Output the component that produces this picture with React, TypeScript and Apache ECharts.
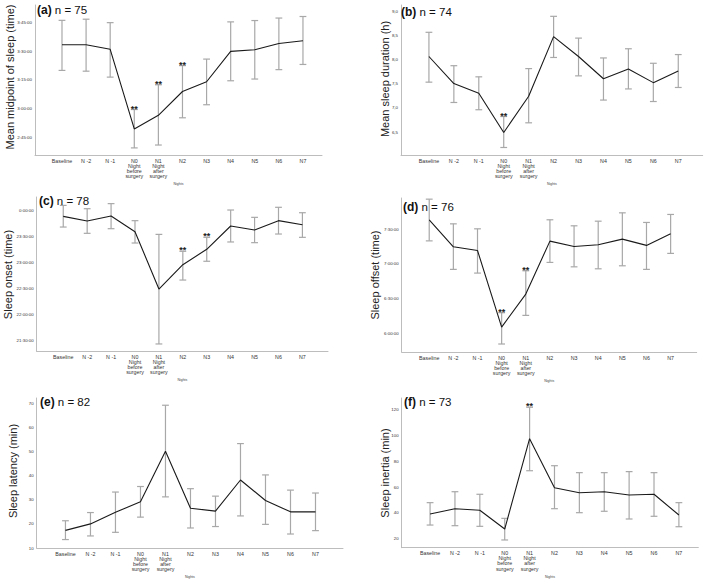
import React, { useEffect, useRef } from "react";
import * as echarts from "echarts";

// Category labels (nights)
const nights = [
  "Baseline",
  "N -2",
  "N -1",
  "N0\nNight\nbefore\nsurgery",
  "N1\nNight\nafter\nsurgery",
  "N2",
  "N3",
  "N4",
  "N5",
  "N6",
  "N7",
];

// (a) Mean midpoint of sleep, minutes after midnight
const midMean = [213.3, 213.3, 210.9, 169.4, 176.5, 188.9, 194.0, 209.8, 210.7, 213.9, 215.4];
const midHigh = [226.0, 226.6, 224.8, 179.5, 192.4, 202.4, 205.8, 225.2, 225.9, 227.2, 228.0];
const midLow = [199.9, 199.5, 196.4, 159.5, 161.0, 175.2, 182.0, 194.5, 195.4, 200.3, 203.0];
const midStars = [0, 0, 0, 1, 1, 1, 0, 0, 0, 0, 0];
const midTicks = [165, 180, 195, 210, 225];

// (b) Mean sleep duration, hours
const durMean = [8.06, 7.5, 7.3, 6.49, 7.24, 8.47, 8.06, 7.6, 7.8, 7.52, 7.76];
const durHigh = [8.56, 7.87, 7.64, 6.82, 7.81, 8.89, 8.44, 8.03, 8.22, 7.92, 8.1];
const durLow = [7.53, 7.11, 6.96, 6.18, 6.69, 8.04, 7.66, 7.16, 7.39, 7.13, 7.42];
const durStars = [0, 0, 0, 1, 0, 0, 0, 0, 0, 0, 0];
const durTicks = [6.5, 7.0, 7.5, 8.0, 8.5, 9.0];

// (c) Sleep onset, minutes relative to midnight (negative = before midnight)
const onMean = [-7.3, -12.6, -6.9, -24.8, -90.5, -62.6, -45.0, -18.3, -22.9, -12.2, -16.8];
const onHigh = [5.3, 1.5, 7.3, -12.2, -27.9, -47.3, -31.3, 0, -8.4, 3.1, -3.1];
const onLow = [-19.5, -26.7, -21.4, -37.8, -153.4, -80.2, -58.7, -36.6, -37.4, -27.5, -31.3];
const onStars = [0, 0, 0, 0, 0, 1, 1, 0, 0, 0, 0];
const onTicks = [-150, -120, -90, -60, -30, 0];

// (d) Sleep offset, minutes after midnight
const offMean = [457.9, 434.7, 431.5, 365.4, 393.9, 439.6, 435.0, 436.4, 441.3, 435.9, 445.9];
const offHigh = [475.8, 454.5, 450.2, 377.8, 414.0, 458.0, 452.8, 456.8, 464.0, 455.7, 462.6];
const offLow = [439.8, 415.2, 412.0, 350.8, 375.5, 421.2, 417.4, 415.7, 418.3, 415.2, 429.0];
const offStars = [0, 0, 0, 1, 1, 0, 0, 0, 0, 0, 0];
const offTicks = [360, 390, 420, 450];

// (e) Sleep latency, minutes
const latMean = [17.3, 20.0, 24.8, 29.2, 50.1, 26.5, 25.3, 38.2, 29.7, 25.0, 25.0];
const latHigh = [21.3, 24.7, 33.2, 35.5, 69.2, 34.6, 31.5, 53.3, 40.3, 34.0, 32.8];
const latLow = [13.5, 15.0, 16.5, 22.8, 31.2, 18.3, 18.9, 23.3, 19.8, 15.8, 17.2];
const latStars = [0, 0, 0, 0, 0, 0, 0, 0, 0, 0, 0];
const latTicks = [10, 20, 30, 40, 50, 60, 70];

// (f) Sleep inertia, minutes
const inMean = [39.2, 43.3, 42.1, 27.5, 97.7, 59.6, 55.7, 56.5, 54.0, 54.5, 38.4];
const inHigh = [48.0, 56.5, 54.5, 35.8, 122.1, 76.7, 71.3, 71.3, 72.1, 71.3, 48.0];
const inLow = [30.6, 30.1, 29.6, 19.0, 72.8, 43.3, 40.2, 41.3, 35.3, 37.4, 29.3];
const inStars = [0, 0, 0, 0, 1, 0, 0, 0, 0, 0, 0];
const inTicks = [20, 40, 60, 80, 100, 120];

const FONT = "'Liberation Sans', Arial, Helvetica, sans-serif";

const clock = (v: number) => {
  const m = Math.round(((v % 1440) + 1440) % 1440);
  const h = Math.floor(m / 60);
  const mm = m % 60;
  return `${h}:${String(mm).padStart(2, "0")}:00`;
};
const comma = (v: number) => v.toFixed(1).replace(".", ",");
const plain = (v: number) => String(Math.round(v));

type Panel = {
  tag: string;
  n: number;
  yTitle: string;
  mean: number[];
  high: number[];
  low: number[];
  stars: number[];
  ticks: number[];
  fmt: (v: number) => string;
  grid: { left: number; top: number; width: number; height: number };
  xMin: number;
  xMax: number;
  yMin: number;
  yMax: number;
  titlePos: [number, number];
  yTitlePos: [number, number];
};

const panels: Panel[] = [
  {
    tag: "(a)", n: 75, yTitle: "Mean midpoint of sleep (time)",
    mean: midMean, high: midHigh, low: midLow, stars: midStars, ticks: midTicks, fmt: clock,
    grid: { left: 35, top: 5, width: 287, height: 150 },
    xMin: -1.12, xMax: 10.79, yMin: 155.8, yMax: 234,
    titlePos: [37, 9.5], yTitlePos: [10, 77],
  },
  {
    tag: "(b)", n: 74, yTitle: "Mean sleep duration (h)",
    mean: durMean, high: durHigh, low: durLow, stars: durStars, ticks: durTicks, fmt: comma,
    grid: { left: 401, top: 5, width: 301.7, height: 150 },
    xMin: -1.12, xMax: 10.98, yMin: 6.025, yMax: 9.124,
    titlePos: [401, 11.7], yTitlePos: [385, 79],
  },
  {
    tag: "(c)", n: 78, yTitle: "Sleep onset (time)",
    mean: onMean, high: onHigh, low: onLow, stars: onStars, ticks: onTicks, fmt: clock,
    grid: { left: 36.7, top: 197, width: 291.3, height: 154.3 },
    xMin: -1.11, xMax: 11.07, yMin: -161.8, yMax: 14.9,
    titlePos: [39, 201], yTitlePos: [8, 274.5],
  },
  {
    tag: "(d)", n: 76, yTitle: "Sleep offset (time)",
    mean: offMean, high: offHigh, low: offLow, stars: offStars, ticks: offTicks, fmt: clock,
    grid: { left: 401.7, top: 198, width: 295, height: 154 },
    xMin: -1.14, xMax: 11.08, yMin: 343.9, yMax: 476.8,
    titlePos: [403, 207.3], yTitlePos: [375, 275],
  },
  {
    tag: "(e)", n: 82, yTitle: "Sleep latency (min)",
    mean: latMean, high: latHigh, low: latLow, stars: latStars, ticks: latTicks, fmt: plain,
    grid: { left: 36.7, top: 398, width: 306.3, height: 150.3 },
    xMin: -1.15, xMax: 11.1, yMin: 10, yMax: 72.2,
    titlePos: [40, 401.7], yTitlePos: [12.7, 471],
  },
  {
    tag: "(f)", n: 73, yTitle: "Sleep inertia (min)",
    mean: inMean, high: inHigh, low: inLow, stars: inStars, ticks: inTicks, fmt: plain,
    grid: { left: 401.7, top: 398, width: 296.6, height: 149.7 },
    xMin: -1.14, xMax: 10.78, yMin: 13, yMax: 129.3,
    titlePos: [404, 401.7], yTitlePos: [385, 473],
  },
];

const idx = nights.map((_, i) => i);

function buildOption() {
  const grids: any[] = [];
  const xAxes: any[] = [];
  const yAxes: any[] = [];
  const series: any[] = [];
  const graphics: any[] = [];

  panels.forEach((p, k) => {
    grids.push({ ...p.grid, containLabel: false });
    xAxes.push({
      type: "value",
      gridIndex: k,
      min: p.xMin,
      max: p.xMax,
      name: "Nights",
      nameLocation: "middle",
      nameGap: 27,
      nameTextStyle: { fontSize: 3.5, color: "#444", fontFamily: FONT },
      axisLine: { show: true, onZero: false, lineStyle: { color: "#bdbdbd", width: 1 } },
      axisTick: { show: false },
      splitLine: { show: false },
      axisLabel: {
        customValues: idx,
        formatter: (v: number) => nights[Math.round(v)] ?? "",
        fontSize: 5.3,
        lineHeight: 5.1,
        color: "#333",
        fontFamily: FONT,
        margin: 3,
      },
    });
    yAxes.push({
      type: "value",
      gridIndex: k,
      min: p.yMin,
      max: p.yMax,
      axisLine: { show: true, onZero: false, lineStyle: { color: "#bdbdbd", width: 1 } },
      axisTick: { show: false },
      splitLine: { show: false },
      axisLabel: {
        customValues: p.ticks,
        formatter: (v: number) => p.fmt(v),
        fontSize: 4.4,
        color: "#333",
        fontFamily: FONT,
        margin: 3,
      },
    });
    series.push({
      type: "custom",
      xAxisIndex: k,
      yAxisIndex: k,
      z: 2,
      clip: false,
      data: idx.map((i) => [i, p.low[i], p.high[i], p.stars[i]]),
      renderItem: (params: any, api: any) => {
        const x = api.value(0);
        const lo = api.coord([x, api.value(1)]);
        const hi = api.coord([x, api.value(2)]);
        const hw = 3.4;
        const st = { stroke: "#a8a8a8", lineWidth: 1.2 };
        const children: any[] = [
          { type: "line", shape: { x1: lo[0], y1: lo[1], x2: hi[0], y2: hi[1] }, style: st },
          { type: "line", shape: { x1: lo[0] - hw, y1: lo[1], x2: lo[0] + hw, y2: lo[1] }, style: st },
          { type: "line", shape: { x1: hi[0] - hw, y1: hi[1], x2: hi[0] + hw, y2: hi[1] }, style: st },
        ];
        if (api.value(3)) {
          children.push({
            type: "text",
            x: hi[0],
            y: hi[1] - 1,
            style: {
              text: "**",
              fontSize: 9,
              fontWeight: "bold",
              fill: "#222",
              align: "center",
              verticalAlign: "middle",
              fontFamily: FONT,
            },
          });
        }
        return { type: "group", children };
      },
    });
    series.push({
      type: "line",
      xAxisIndex: k,
      yAxisIndex: k,
      z: 3,
      data: idx.map((i) => [i, p.mean[i]]),
      showSymbol: false,
      lineStyle: { color: "#1a1a1a", width: 1.1 },
    });
    graphics.push({
      type: "text",
      x: p.titlePos[0],
      y: p.titlePos[1],
      z: 10,
      style: {
        text: `{b|${p.tag}} n = ${p.n}`,
        fontSize: 11.5,
        fill: "#111",
        fontFamily: FONT,
        verticalAlign: "middle",
        align: "left",
        rich: { b: { fontSize: 12, fontWeight: "bold", fill: "#111", fontFamily: FONT } },
      },
    });
    graphics.push({
      type: "text",
      x: p.yTitlePos[0],
      y: p.yTitlePos[1],
      rotation: Math.PI / 2,
      style: {
        text: p.yTitle,
        fontSize: 11,
        fill: "#222",
        fontFamily: FONT,
        align: "center",
        verticalAlign: "middle",
      },
    });
  });

  return {
    animation: false,
    backgroundColor: "#ffffff",
    grid: grids,
    xAxis: xAxes,
    yAxis: yAxes,
    series,
    graphic: graphics,
  };
}

export default function App() {
  const ref = useRef<HTMLDivElement>(null);
  useEffect(() => {
    if (!ref.current) return;
    const chart = echarts.init(ref.current, undefined, { renderer: "svg" });
    chart.setOption(buildOption() as any);
    return () => chart.dispose();
  }, []);
  return (
    <div
      ref={ref}
      style={{ position: "absolute", left: 0, top: 0, width: 709, height: 580, background: "#fff" }}
    />
  );
}
